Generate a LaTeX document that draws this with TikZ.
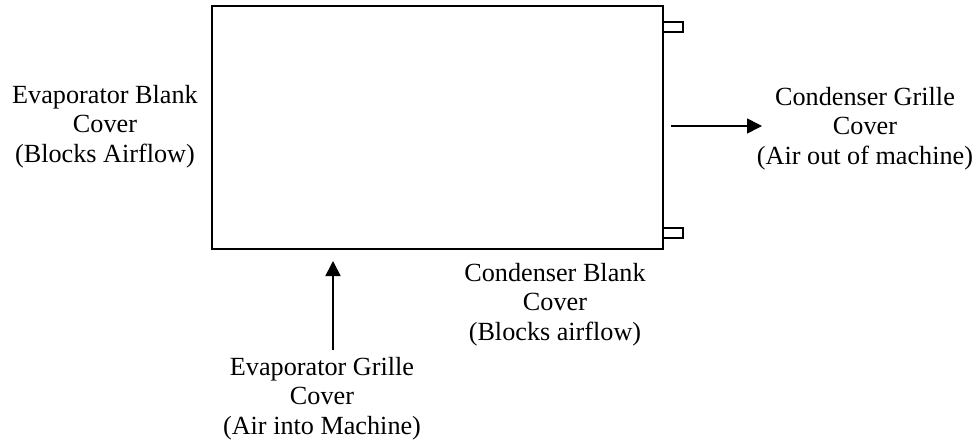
\documentclass[tikz,border=0pt]{standalone}
\usepackage{fontspec}
\setmainfont{Liberation Serif}
\usetikzlibrary{arrows.meta}
\begin{document}
\begin{tikzpicture}[x=1pt,y=-1pt]
        \tikzstyle{label}=[align=center,inner sep=0pt,font=\fontsize{26.2}{29.5}\selectfont]
        \tikzstyle{outline}=[draw=black,line width=1.6pt]
        \tikzstyle{flow}=[draw,line width=1.6pt,-{Triangle[length=15pt,width=15pt]}]
        \useasboundingbox (0,0) rectangle (976,447);
       \begin{scope}
         \node [outline,minimum width=451,minimum height=243,inner sep=0pt] (machine) at (437.5,127.5) {};
         \node [outline,minimum width=20,minimum height=10,inner sep=0pt] (tabtop) at (673,27) {};
         \node [outline,minimum width=20,minimum height=10,inner sep=0pt] (tabbot) at (673,233) {};
         \node [label] (ebc) at (105,126.5) {Evaporator Blank\\Cover\\(Blocks Airflow)};
         \node [label] (cgc) at (865,128.5) {Condenser Grille\\Cover\\(Air out of machine)};
         \node [label] (cbc) at (555,304.5) {Condenser Blank\\Cover\\(Blocks airflow)};
         \node [label] (egc) at (322,398.5) {Evaporator Grille\\Cover\\(Air into Machine)};
         \coordinate (outtail) at (671,126);
         \coordinate (outtip) at (762,126);
         \coordinate (intail) at (333,350);
         \coordinate (intip) at (333,261);
         \path[flow] (outtail) -- (outtip);
         \path[flow] (intail) -- (intip);
        \end{scope}
      \end{tikzpicture}
\end{document}
